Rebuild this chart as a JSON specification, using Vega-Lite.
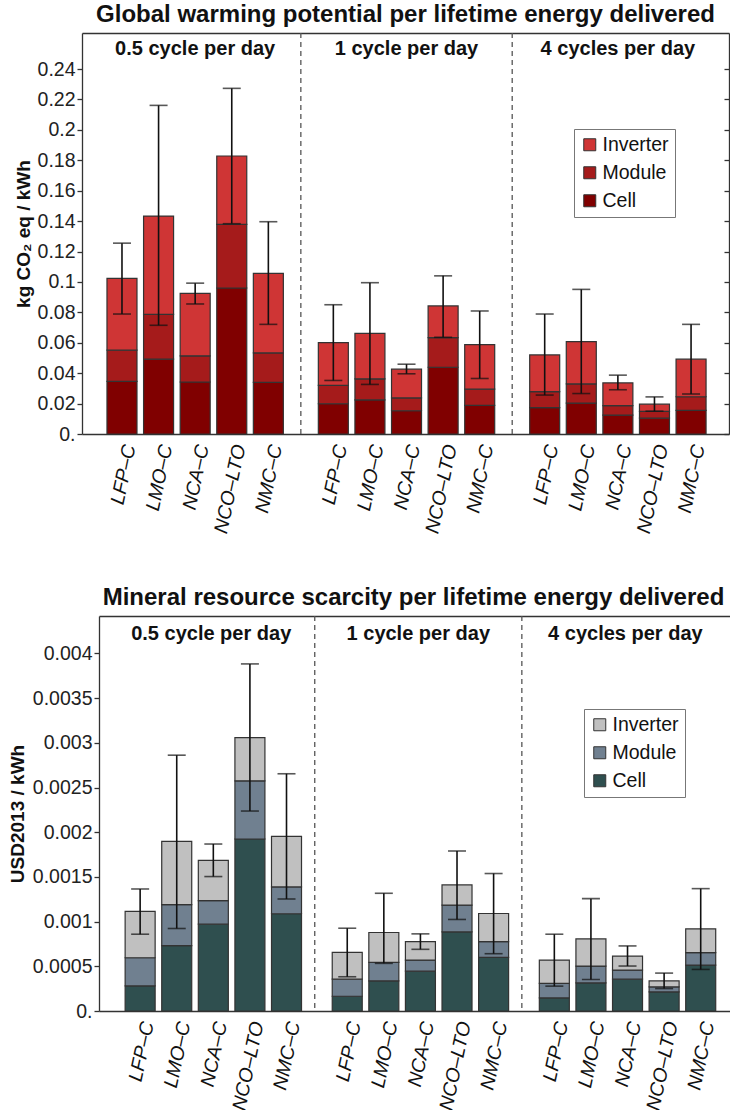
{
  "$schema": "https://vega.github.io/schema/vega-lite/v6.json",
  "padding": {"left": 8, "top": 3, "right": 0, "bottom": 0},
  "spacing": 50,
  "resolve": {"scale": {"color": "independent"}, "legend": {"color": "independent"}},
  "config": {
    "font": "Liberation Sans",
    "view": {"stroke": null},
    "axis": {"labelFont": "Liberation Sans", "titleFont": "Liberation Sans", "grid": false}
  },
  "datasets": {
    "groups": [
      {"group": "0.5 cycle per day"},
      {"group": "1 cycle per day"},
      {"group": "4 cycles per day"}
    ],
    "gwp": [
      {"group": "0.5 cycle per day", "battery": "LFP–C", "cell": 0.0346, "module": 0.0551, "total": 0.1024, "lo": 0.0789, "hi": 0.1255},
      {"group": "0.5 cycle per day", "battery": "LMO–C", "cell": 0.0492, "module": 0.0787, "total": 0.1433, "lo": 0.0715, "hi": 0.2161},
      {"group": "0.5 cycle per day", "battery": "NCA–C", "cell": 0.0342, "module": 0.0514, "total": 0.0925, "lo": 0.0855, "hi": 0.0992},
      {"group": "0.5 cycle per day", "battery": "NCO–LTO", "cell": 0.0960, "module": 0.1379, "total": 0.1828, "lo": 0.1383, "hi": 0.2273},
      {"group": "0.5 cycle per day", "battery": "NMC–C", "cell": 0.0340, "module": 0.0533, "total": 0.1056, "lo": 0.0721, "hi": 0.1396},
      {"group": "1 cycle per day", "battery": "LFP–C", "cell": 0.0199, "module": 0.0320, "total": 0.0601, "lo": 0.0352, "hi": 0.0850},
      {"group": "1 cycle per day", "battery": "LMO–C", "cell": 0.0224, "module": 0.0363, "total": 0.0662, "lo": 0.0326, "hi": 0.0995},
      {"group": "1 cycle per day", "battery": "NCA–C", "cell": 0.0153, "module": 0.0237, "total": 0.0426, "lo": 0.0396, "hi": 0.0459},
      {"group": "1 cycle per day", "battery": "NCO–LTO", "cell": 0.0439, "module": 0.0634, "total": 0.0842, "lo": 0.0636, "hi": 0.1040},
      {"group": "1 cycle per day", "battery": "NMC–C", "cell": 0.0188, "module": 0.0295, "total": 0.0588, "lo": 0.0365, "hi": 0.0809},
      {"group": "4 cycles per day", "battery": "LFP–C", "cell": 0.0173, "module": 0.0279, "total": 0.0520, "lo": 0.0256, "hi": 0.0789},
      {"group": "4 cycles per day", "battery": "LMO–C", "cell": 0.0203, "module": 0.0329, "total": 0.0608, "lo": 0.0266, "hi": 0.0951},
      {"group": "4 cycles per day", "battery": "NCA–C", "cell": 0.0124, "module": 0.0186, "total": 0.0336, "lo": 0.0291, "hi": 0.0387},
      {"group": "4 cycles per day", "battery": "NCO–LTO", "cell": 0.0104, "module": 0.0149, "total": 0.0196, "lo": 0.0150, "hi": 0.0244},
      {"group": "4 cycles per day", "battery": "NMC–C", "cell": 0.0155, "module": 0.0245, "total": 0.0492, "lo": 0.0263, "hi": 0.0721}
    ],
    "mrs": [
      {"group": "0.5 cycle per day", "battery": "LFP–C", "cell": 0.000281, "module": 0.000596, "total": 0.001114, "lo": 0.000859, "hi": 0.001365},
      {"group": "0.5 cycle per day", "battery": "LMO–C", "cell": 0.000731, "module": 0.001189, "total": 0.001897, "lo": 0.000923, "hi": 0.002862},
      {"group": "0.5 cycle per day", "battery": "NCA–C", "cell": 0.000971, "module": 0.001234, "total": 0.001684, "lo": 0.001504, "hi": 0.001868},
      {"group": "0.5 cycle per day", "battery": "NCO–LTO", "cell": 0.001924, "module": 0.002575, "total": 0.003059, "lo": 0.002237, "hi": 0.003883},
      {"group": "0.5 cycle per day", "battery": "NMC–C", "cell": 0.001088, "module": 0.001388, "total": 0.001953, "lo": 0.001253, "hi": 0.002654},
      {"group": "1 cycle per day", "battery": "LFP–C", "cell": 0.000165, "module": 0.000356, "total": 0.000656, "lo": 0.000383, "hi": 0.000926},
      {"group": "1 cycle per day", "battery": "LMO–C", "cell": 0.000338, "module": 0.000544, "total": 0.000878, "lo": 0.000533, "hi": 0.001317},
      {"group": "1 cycle per day", "battery": "NCA–C", "cell": 0.000446, "module": 0.000570, "total": 0.000776, "lo": 0.000690, "hi": 0.000863},
      {"group": "1 cycle per day", "battery": "NCO–LTO", "cell": 0.000885, "module": 0.001185, "total": 0.001410, "lo": 0.001024, "hi": 0.001790},
      {"group": "1 cycle per day", "battery": "NMC–C", "cell": 0.000600, "module": 0.000776, "total": 0.001091, "lo": 0.000641, "hi": 0.001538},
      {"group": "4 cycles per day", "battery": "LFP–C", "cell": 0.000146, "module": 0.000308, "total": 0.000570, "lo": 0.000278, "hi": 0.000859},
      {"group": "4 cycles per day", "battery": "LMO–C", "cell": 0.000315, "module": 0.000503, "total": 0.000806, "lo": 0.000353, "hi": 0.001257},
      {"group": "4 cycles per day", "battery": "NCA–C", "cell": 0.000356, "module": 0.000458, "total": 0.000615, "lo": 0.000503, "hi": 0.000728},
      {"group": "4 cycles per day", "battery": "NCO–LTO", "cell": 0.000214, "module": 0.000270, "total": 0.000338, "lo": 0.000251, "hi": 0.000424},
      {"group": "4 cycles per day", "battery": "NMC–C", "cell": 0.000514, "module": 0.000653, "total": 0.000919, "lo": 0.000465, "hi": 0.001369}
    ]
  },
  "vconcat": [
    {
      "width": 647,
      "height": 401,
      "title": {"text": "Global warming potential per lifetime energy delivered", "fontSize": 24, "fontWeight": "bold", "color": "#111", "anchor": "middle", "frame": "group", "offset": 5},
      "resolve": {"axis": {"x": "independent", "y": "independent"}},
      "layer": [
        {
          "data": {"name": "gwp"},
          "mark": {"type": "bar", "stroke": "#333", "strokeWidth": 1.2},
          "encoding": {
            "x": {"field": "group", "type": "nominal", "scale": {"domain": ["0.5 cycle per day", "1 cycle per day", "4 cycles per day"], "paddingInner": 0, "paddingOuter": 0.0306, "align": 0.579}, "axis": {"orient": "bottom", "labels": false, "ticks": false, "title": null, "domainColor": "#333", "domainWidth": 1.3}},
            "xOffset": {"field": "battery", "type": "nominal", "scale": {"domain": ["LFP–C", "LMO–C", "NCA–C", "NCO–LTO", "NMC–C"], "paddingInner": 0.18, "paddingOuter": 0.478}},
            "y": {"field": "cell", "type": "quantitative", "scale": {"domain": [0, 0.2637], "nice": false}, "axis": {"orient": "left", "values": [0, 0.02, 0.04, 0.06, 0.08, 0.1, 0.12, 0.14, 0.16, 0.18, 0.2, 0.22, 0.24], "labelExpr": "datum.value == 0 ? '0.' : format(datum.value, '~g')", "labelFontSize": 19.5, "labelColor": "#222", "labelPadding": 2, "tickSize": 5, "tickColor": "#333", "tickWidth": 1.3, "domainColor": "#333", "domainWidth": 1.3, "title": "kg CO₂ eq / kWh", "titleFontSize": 19, "titleFontWeight": "bold", "titleColor": "#111", "titlePadding": 4}},
            "y2": {"datum": 0},
            "color": {"datum": "Cell", "scale": {"domain": ["Inverter", "Module", "Cell"], "range": ["#cf3535", "#a51b1b", "#800000"]}, "legend": {"orient": "none", "legendX": 492, "legendY": 96, "title": null, "fillColor": "white", "strokeColor": "#777", "padding": 6, "symbolType": "square", "symbolSize": 144, "symbolStrokeColor": "#333", "symbolStrokeWidth": 1, "symbolOpacity": 1, "labelFontSize": 19.5, "labelColor": "#111", "labelOffset": 3, "rowPadding": 7, "labelFont": "Liberation Sans"}}
          }
        },
        {
          "data": {"name": "gwp"},
          "mark": {"type": "bar", "stroke": "#333", "strokeWidth": 1.2},
          "encoding": {
            "x": {"field": "group", "type": "nominal", "axis": {"orient": "top", "labels": false, "ticks": false, "title": null, "domainColor": "#333", "domainWidth": 1.3}},
            "xOffset": {"field": "battery", "type": "nominal"},
            "y": {"field": "module", "type": "quantitative", "axis": {"orient": "right", "values": [0, 0.02, 0.04, 0.06, 0.08, 0.1, 0.12, 0.14, 0.16, 0.18, 0.2, 0.22, 0.24], "labels": false, "tickSize": -5, "tickColor": "#333", "tickWidth": 1.3, "domainColor": "#333", "domainWidth": 1.3, "title": null}},
            "y2": {"field": "cell"},
            "color": {"datum": "Module"}
          }
        },
        {
          "data": {"name": "gwp"},
          "mark": {"type": "bar", "stroke": "#333", "strokeWidth": 1.2},
          "encoding": {
            "x": {"field": "group", "type": "nominal", "axis": null},
            "xOffset": {"field": "battery", "type": "nominal"},
            "y": {"field": "total", "type": "quantitative", "axis": null},
            "y2": {"field": "module"},
            "color": {"datum": "Inverter"}
          }
        },
        {
          "data": {"name": "gwp"},
          "mark": {"type": "rule", "color": "#111", "strokeWidth": 1.6},
          "encoding": {
            "x": {"field": "group", "type": "nominal", "axis": null},
            "xOffset": {"field": "battery", "type": "nominal"},
            "y": {"field": "lo", "type": "quantitative", "axis": null},
            "y2": {"field": "hi"}
          }
        },
        {
          "data": {"name": "gwp"},
          "mark": {"type": "tick", "color": "#111", "thickness": 1.6, "size": 18, "orient": "horizontal"},
          "encoding": {
            "x": {"field": "group", "type": "nominal", "axis": null},
            "xOffset": {"field": "battery", "type": "nominal"},
            "y": {"field": "lo", "type": "quantitative", "axis": null}
          }
        },
        {
          "data": {"name": "gwp"},
          "mark": {"type": "tick", "color": "#111", "thickness": 1.6, "size": 18, "orient": "horizontal"},
          "encoding": {
            "x": {"field": "group", "type": "nominal", "axis": null},
            "xOffset": {"field": "battery", "type": "nominal"},
            "y": {"field": "hi", "type": "quantitative", "axis": null}
          }
        },
        {
          "data": {"name": "groups"},
          "transform": [{"filter": "datum.group != '0.5 cycle per day'"}],
          "mark": {"type": "rule", "strokeDash": [5, 4], "color": "#555", "strokeWidth": 1.3},
          "encoding": {
            "x": {"field": "group", "type": "nominal", "bandPosition": 0, "axis": null}
          }
        },
        {
          "data": {"name": "groups"},
          "mark": {"type": "text", "fontSize": 20, "fontWeight": "bold", "color": "#111", "baseline": "middle"},
          "encoding": {
            "x": {"field": "group", "type": "nominal", "axis": null},
            "y": {"datum": 0.2529, "type": "quantitative", "axis": null},
            "text": {"field": "group"}
          }
        },
        {
          "data": {"name": "gwp"},
          "mark": {"type": "text", "angle": 282, "align": "right", "baseline": "middle", "dx": -9, "dy": 10, "fontSize": 19.5, "fontStyle": "italic", "color": "#111"},
          "encoding": {
            "x": {"field": "group", "type": "nominal", "axis": null},
            "xOffset": {"field": "battery", "type": "nominal"},
            "y": {"datum": 0, "type": "quantitative", "axis": null},
            "text": {"field": "battery"}
          }
        }
      ]
    },
    {
      "width": 653,
      "height": 395,
      "title": {"text": "Mineral resource scarcity per lifetime energy delivered", "fontSize": 24, "fontWeight": "bold", "color": "#111", "anchor": "middle", "frame": "group", "offset": 5, "dx": 5},
      "resolve": {"axis": {"x": "independent", "y": "independent"}},
      "layer": [
        {
          "data": {"name": "mrs"},
          "mark": {"type": "bar", "stroke": "#333", "strokeWidth": 1.2},
          "encoding": {
            "x": {"field": "group", "type": "nominal", "scale": {"domain": ["0.5 cycle per day", "1 cycle per day", "4 cycles per day"], "range": [17, 653], "paddingInner": 0, "paddingOuter": 0.0355, "align": 0.588}, "axis": {"orient": "bottom", "labels": false, "ticks": false, "title": null, "domainColor": "#333", "domainWidth": 1.3}},
            "xOffset": {"field": "battery", "type": "nominal", "scale": {"domain": ["LFP–C", "LMO–C", "NCA–C", "NCO–LTO", "NMC–C"], "paddingInner": 0.155, "paddingOuter": 0.466}},
            "y": {"field": "cell", "type": "quantitative", "scale": {"domain": [0, 0.004419], "nice": false}, "axis": {"orient": "left", "offset": -17, "values": [0, 0.0005, 0.001, 0.0015, 0.002, 0.0025, 0.003, 0.0035, 0.004], "labelExpr": "datum.value == 0 ? '0.' : format(datum.value, '~g')", "labelFontSize": 19.5, "labelColor": "#222", "labelPadding": 2, "tickSize": 5, "tickColor": "#333", "tickWidth": 1.3, "domainColor": "#333", "domainWidth": 1.3, "title": "USD2013 / kWh", "titleFontSize": 19, "titleFontWeight": "bold", "titleColor": "#111", "titlePadding": 5}},
            "y2": {"datum": 0},
            "color": {"datum": "Cell", "scale": {"domain": ["Inverter", "Module", "Cell"], "range": ["#c0c0c0", "#708090", "#2f4f4f"]}, "legend": {"orient": "none", "legendX": 502, "legendY": 93, "title": null, "fillColor": "white", "strokeColor": "#777", "padding": 6, "symbolType": "square", "symbolSize": 144, "symbolStrokeColor": "#333", "symbolStrokeWidth": 1, "symbolOpacity": 1, "labelFontSize": 19.5, "labelColor": "#111", "labelOffset": 3, "rowPadding": 7, "labelFont": "Liberation Sans"}}
          }
        },
        {
          "data": {"name": "mrs"},
          "mark": {"type": "bar", "stroke": "#333", "strokeWidth": 1.2},
          "encoding": {
            "x": {"field": "group", "type": "nominal", "axis": {"orient": "top", "labels": false, "ticks": false, "title": null, "domainColor": "#333", "domainWidth": 1.3}},
            "xOffset": {"field": "battery", "type": "nominal"},
            "y": {"field": "module", "type": "quantitative", "axis": {"orient": "right", "values": [0, 0.0005, 0.001, 0.0015, 0.002, 0.0025, 0.003, 0.0035, 0.004], "labels": false, "tickSize": -5, "tickColor": "#333", "tickWidth": 1.3, "domainColor": "#333", "domainWidth": 1.3, "title": null}},
            "y2": {"field": "cell"},
            "color": {"datum": "Module"}
          }
        },
        {
          "data": {"name": "mrs"},
          "mark": {"type": "bar", "stroke": "#333", "strokeWidth": 1.2},
          "encoding": {
            "x": {"field": "group", "type": "nominal", "axis": null},
            "xOffset": {"field": "battery", "type": "nominal"},
            "y": {"field": "total", "type": "quantitative", "axis": null},
            "y2": {"field": "module"},
            "color": {"datum": "Inverter"}
          }
        },
        {
          "data": {"name": "mrs"},
          "mark": {"type": "rule", "color": "#111", "strokeWidth": 1.6},
          "encoding": {
            "x": {"field": "group", "type": "nominal", "axis": null},
            "xOffset": {"field": "battery", "type": "nominal"},
            "y": {"field": "lo", "type": "quantitative", "axis": null},
            "y2": {"field": "hi"}
          }
        },
        {
          "data": {"name": "mrs"},
          "mark": {"type": "tick", "color": "#111", "thickness": 1.6, "size": 18, "orient": "horizontal"},
          "encoding": {
            "x": {"field": "group", "type": "nominal", "axis": null},
            "xOffset": {"field": "battery", "type": "nominal"},
            "y": {"field": "lo", "type": "quantitative", "axis": null}
          }
        },
        {
          "data": {"name": "mrs"},
          "mark": {"type": "tick", "color": "#111", "thickness": 1.6, "size": 18, "orient": "horizontal"},
          "encoding": {
            "x": {"field": "group", "type": "nominal", "axis": null},
            "xOffset": {"field": "battery", "type": "nominal"},
            "y": {"field": "hi", "type": "quantitative", "axis": null}
          }
        },
        {
          "data": {"name": "groups"},
          "transform": [{"filter": "datum.group != '0.5 cycle per day'"}],
          "mark": {"type": "rule", "strokeDash": [5, 4], "color": "#555", "strokeWidth": 1.3},
          "encoding": {
            "x": {"field": "group", "type": "nominal", "bandPosition": 0, "axis": null}
          }
        },
        {
          "data": {"name": "groups"},
          "mark": {"type": "text", "fontSize": 20, "fontWeight": "bold", "color": "#111", "baseline": "middle"},
          "encoding": {
            "x": {"field": "group", "type": "nominal", "axis": null},
            "y": {"datum": 0.004221, "type": "quantitative", "axis": null},
            "text": {"field": "group"}
          }
        },
        {
          "data": {"name": "mrs"},
          "mark": {"type": "text", "angle": 282, "align": "right", "baseline": "middle", "dx": -9, "dy": 10, "fontSize": 19.5, "fontStyle": "italic", "color": "#111"},
          "encoding": {
            "x": {"field": "group", "type": "nominal", "axis": null},
            "xOffset": {"field": "battery", "type": "nominal"},
            "y": {"datum": 0, "type": "quantitative", "axis": null},
            "text": {"field": "battery"}
          }
        }
      ]
    }
  ]
}
